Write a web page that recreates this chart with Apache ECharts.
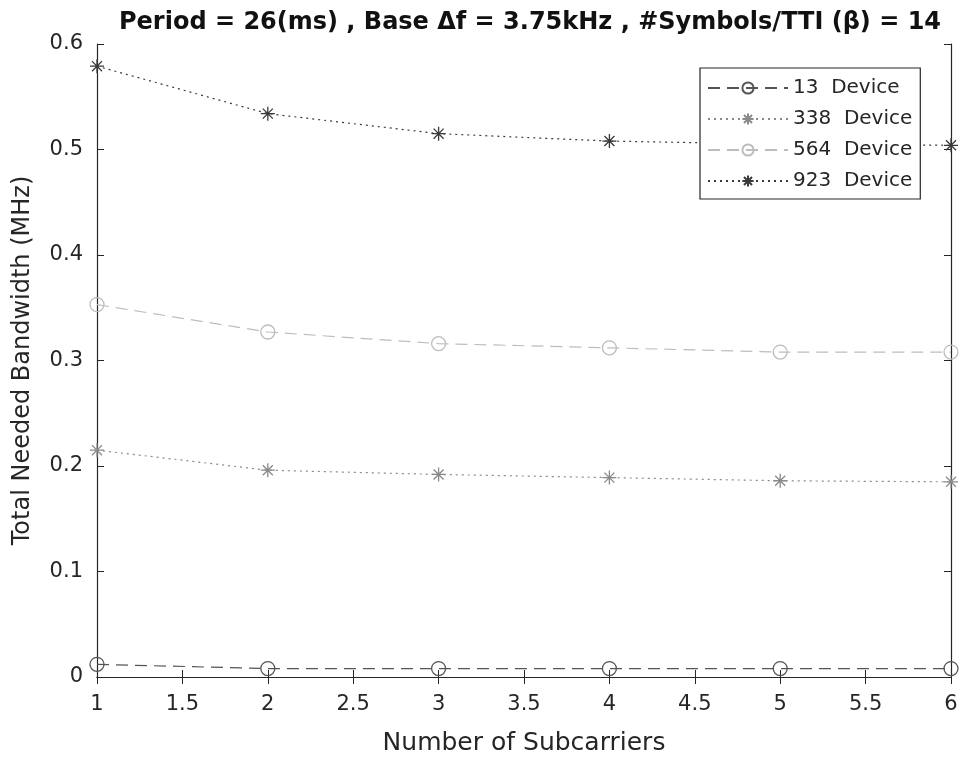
<!DOCTYPE html>
<html lang="en">
<head>
<meta charset="UTF-8">
<title>Total Needed Bandwidth</title>
<script src="https://cdn.jsdelivr.net/npm/echarts@6/dist/echarts.min.js"></script>
<style>
  html, body { margin: 0; padding: 0; background: #fff; }
  #main { width: 965px; height: 761px; }
</style>
</head>
<body>
<div id="main"></div>
<script>
// number of subcarriers
var subcarriers = [1, 2, 3, 4, 5, 6];
// total needed bandwidth (MHz)
var dev13  = [0.012, 0.008, 0.008, 0.008, 0.008, 0.008];
var dev338 = [0.215, 0.196, 0.192, 0.189, 0.186, 0.185];
var dev564 = [0.353, 0.327, 0.316, 0.312, 0.308, 0.308];
var dev923 = [0.579, 0.534, 0.515, 0.508, 0.505, 0.504];
var names = ['13  Device', '338  Device', '564  Device', '923  Device'];

var star = 'path://M0,-6L0,6M-6,0L6,0M-4.3,-4.3L4.3,4.3M-4.3,4.3L4.3,-4.3';
var font = 'DejaVu Sans, Liberation Sans, sans-serif';
var ink = '#262626';

function pairs(ys) {
    var out = [];
    for (var i = 0; i < subcarriers.length; i++) out.push([subcarriers[i], ys[i]]);
    return out;
}

function mk(name, ys, color, dash, sym, size) {
    return {
        name: name,
        type: 'line',
        data: pairs(ys),
        symbol: sym,
        symbolSize: size,
        showAllSymbol: true,
        clip: false,
        lineStyle: { color: color, width: 1.2, type: dash },
        itemStyle: { color: 'rgba(0,0,0,0)', borderColor: color, borderWidth: 1.3 },
        emphasis: { disabled: true }
    };
}

var myChart = echarts.init(document.getElementById('main'));
var axisCommon = {
    axisLine: { show: true, lineStyle: { color: ink, width: 1.2 } },
    axisTick: { show: true, inside: true, length: 7, lineStyle: { color: ink } },
    splitLine: { show: false }
};

var option = {
    backgroundColor: '#fff',
    animation: false,
    title: {
        text: 'Period = 26(ms) , Base \u0394f = 3.75kHz , #Symbols/TTI (\u03B2) = 14',
        left: 525, top: 6, textAlign: 'center',
        textStyle: { fontFamily: font, fontSize: 24, fontWeight: 'bold', color: '#111' }
    },
    legend: {
        data: names,
        orient: 'vertical',
        left: 700, top: 68,
        itemWidth: 80, itemHeight: 14, itemGap: 11,
        padding: [10, 8, 8, 7],
        borderColor: ink, borderWidth: 1.2,
        backgroundColor: '#fff',
        textStyle: { fontFamily: font, fontSize: 20, color: ink }
    },
    grid: { left: 97, right: 14, top: 44, bottom: 81 },
    xAxis: [
        Object.assign({
            type: 'value', min: 1, max: 6, interval: 0.5,
            name: 'Number of Subcarriers', nameLocation: 'middle', nameGap: 54,
            nameTextStyle: { fontFamily: font, fontSize: 25, color: ink },
            axisLabel: { fontFamily: font, fontSize: 21, color: ink, margin: 17 }
        }, axisCommon),
        Object.assign({
            type: 'value', min: 1, max: 6, interval: 0.5, position: 'top',
            axisLabel: { show: false }
        }, axisCommon)
    ],
    yAxis: [
        Object.assign({
            type: 'value', min: 0, max: 0.6, interval: 0.1,
            name: 'Total Needed Bandwidth (MHz)', nameLocation: 'middle', nameGap: 62,
            nameTextStyle: { fontFamily: font, fontSize: 24, color: ink },
            axisLabel: { fontFamily: font, fontSize: 21, color: ink, margin: 14 }
        }, axisCommon),
        Object.assign({
            type: 'value', min: 0, max: 0.6, interval: 0.1, position: 'right',
            axisLabel: { show: false }
        }, axisCommon)
    ],
    series: [
        mk(names[0], dev13, '#555555', [12, 7], 'circle', 14),
        mk(names[1], dev338, '#8a8a8a', [2, 4], star, 14),
        mk(names[2], dev564, '#bdbdbd', [12, 7], 'circle', 14),
        mk(names[3], dev923, '#3a3a3a', [2, 4], star, 14)
    ]
};
myChart.setOption(option);
</script>
</body>
</html>
